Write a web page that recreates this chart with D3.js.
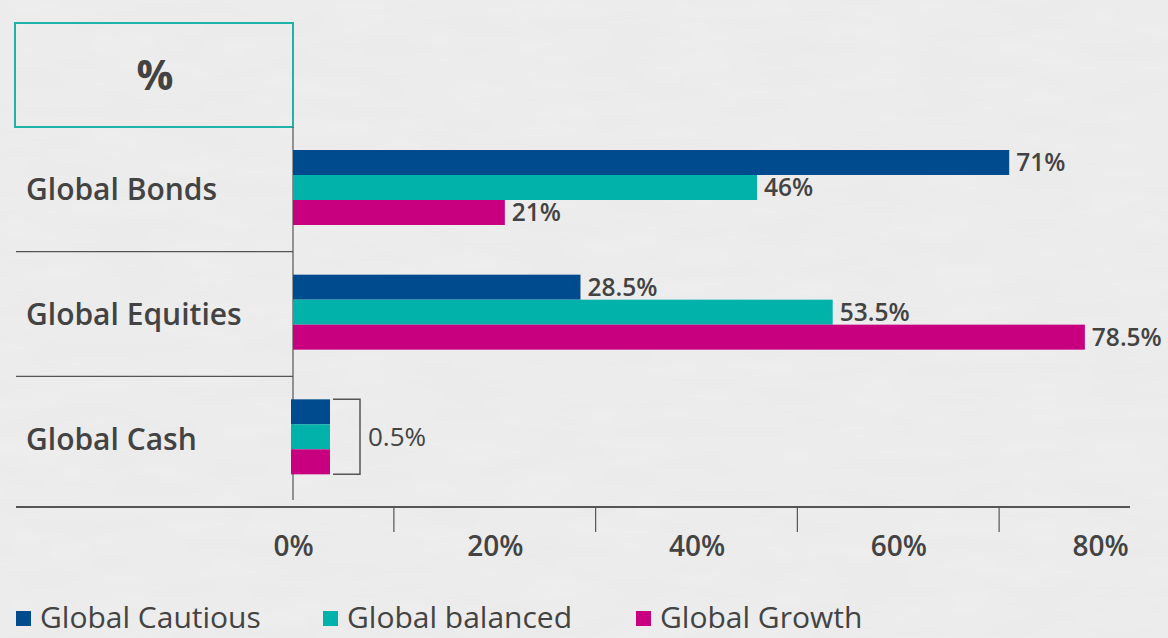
<!DOCTYPE html>
<html>
<head>
<meta charset="utf-8">
<script src="https://cdn.jsdelivr.net/npm/d3@7"></script>
<style>
  html, body { margin: 0; padding: 0; background: #ededed; }
  svg { display: block; font-family: "Open Sans", sans-serif; }
</style>
</head>
<body>
<script>
// Asset classes and the three fund series
const categories = ['Global Bonds', 'Global Equities', 'Global Cash'];
const seriesNames = ['Global Cautious', 'Global balanced', 'Global Growth'];
const cautious = [71, 28.5, 0.5];
const balanced = [46, 53.5, 0.5];
const growth = [21, 78.5, 0.5];
const tickValues = [0, 20, 40, 60, 80];
const colors = ['#004b8d', '#00b2a9', '#c8007f'];

const width = 1168, height = 638;
const textColor = '#434343';
const lineColor = '#555';

const svg = d3.select('body').append('svg')
    .attr('width', width)
    .attr('height', height);

// paper-ish background
const defs = svg.append('defs');
const filt = defs.append('filter').attr('id', 'paper')
    .attr('x', 0).attr('y', 0).attr('width', '100%').attr('height', '100%');
filt.append('feTurbulence')
    .attr('type', 'fractalNoise')
    .attr('baseFrequency', '0.012 0.05')
    .attr('numOctaves', 3)
    .attr('seed', 4);
filt.append('feColorMatrix')
    .attr('type', 'matrix')
    .attr('values', '0 0 0 0 0.55  0 0 0 0 0.55  0 0 0 0 0.55  0 0 0 0.1 0');
svg.append('rect').attr('width', width).attr('height', height).attr('fill', '#eeeeee');
svg.append('rect').attr('width', width).attr('height', height).attr('filter', 'url(#paper)');

// Scales
const x = d3.scaleLinear().domain([0, 80]).range([293, 1100]);
const y0 = d3.scaleBand().domain(categories).range([127, 501]);
const y1 = d3.scaleBand().domain(seriesNames).range([23, 98]);
const minBarW = 39; // tiny values drawn as a visible block

const rows = categories.map((c, i) => ({
  category: c,
  values: [cautious[i], balanced[i], growth[i]]
}));

// Header box
svg.append('rect')
    .attr('x', 15).attr('y', 23)
    .attr('width', 278).attr('height', 104)
    .attr('fill', 'none')
    .attr('stroke', '#1fb3a6')
    .attr('stroke-width', 2);
svg.append('text')
    .attr('x', 155).attr('y', 90)
    .attr('text-anchor', 'middle')
    .attr('font-size', 41)
    .attr('font-weight', 700)
    .attr('fill', textColor)
    .text('%');

// Row separators
svg.selectAll('.sep')
    .data(categories.slice(1))
    .enter().append('line')
    .attr('class', 'sep')
    .attr('x1', 16).attr('x2', x(0))
    .attr('y1', d => y0(d)).attr('y2', d => y0(d))
    .attr('stroke', lineColor)
    .attr('stroke-width', 1.2);

// Vertical axis line
svg.append('line')
    .attr('x1', x(0)).attr('x2', x(0))
    .attr('y1', 127).attr('y2', 500)
    .attr('stroke', lineColor)
    .attr('stroke-width', 1.2);

// Category labels
svg.selectAll('.cat')
    .data(categories)
    .enter().append('text')
    .attr('class', 'cat')
    .attr('x', 26)
    .attr('y', d => y0(d) + y0.bandwidth() / 2 + 11)
    .attr('font-size', 30)
    .attr('font-weight', 600)
    .attr('fill', textColor)
    .text(d => d);

// Bars
const group = svg.selectAll('.group')
    .data(rows)
    .enter().append('g')
    .attr('class', 'group')
    .attr('transform', d => `translate(0,${y0(d.category)})`);

group.selectAll('rect')
    .data(d => d.values.map((v, i) => ({ name: seriesNames[i], value: v, i: i })))
    .enter().append('rect')
    .attr('x', d => d.value < 1 ? x(0) - 2 : x(0))
    .attr('y', d => y1(d.name))
    .attr('width', d => Math.max(x(d.value) - x(0), minBarW))
    .attr('height', y1.bandwidth())
    .attr('fill', d => colors[d.i]);

// Value labels for the readable bars
group.selectAll('.val')
    .data(d => d.values.map((v, i) => ({ name: seriesNames[i], value: v })).filter(d => d.value >= 1))
    .enter().append('text')
    .attr('class', 'val')
    .attr('x', d => x(d.value) + 7)
    .attr('y', d => y1(d.name) + y1.bandwidth() / 2 + 8.5)
    .attr('font-size', 24.5)
    .attr('font-weight', 600)
    .attr('fill', textColor)
    .text(d => d.value + '%');

// Bracket and shared label for the small cash values
const cash = rows[2];
const cy = y0(cash.category);
const bx = x(0) - 2 + minBarW + 3;
svg.append('path')
    .attr('d', `M${bx},${cy + y1(seriesNames[0])}H${bx + 27}V${cy + y1(seriesNames[2]) + y1.bandwidth()}H${bx}`)
    .attr('fill', 'none')
    .attr('stroke', lineColor)
    .attr('stroke-width', 1.5);
svg.append('text')
    .attr('x', bx + 35)
    .attr('y', cy + 23 + 37.5 + 9)
    .attr('font-size', 26)
    .attr('fill', textColor)
    .text(cash.values[0] + '%');

// Bottom axis
const axisY = 507;
svg.append('line')
    .attr('x1', 16).attr('x2', 1130)
    .attr('y1', axisY).attr('y2', axisY)
    .attr('stroke', lineColor)
    .attr('stroke-width', 2);

const axis = svg.append('g')
    .attr('transform', `translate(0,${axisY})`)
    .call(d3.axisBottom(x).tickValues(tickValues).tickFormat(d => d + '%').tickSize(0).tickPadding(0));
axis.select('.domain').remove();
axis.selectAll('text')
    .attr('dy', null)
    .attr('y', 49)
    .attr('font-family', '"Open Sans", sans-serif')
    .attr('font-size', 28)
    .attr('font-weight', 600)
    .attr('fill', textColor);

// Minor tick marks between the labels
svg.selectAll('.mtick')
    .data([10, 30, 50, 70])
    .enter().append('line')
    .attr('class', 'mtick')
    .attr('x1', d => x(d)).attr('x2', d => x(d))
    .attr('y1', axisY).attr('y2', axisY + 25)
    .attr('stroke', lineColor)
    .attr('stroke-width', 1.2);

// Legend
const legendX = [16, 323, 636];
const legend = svg.selectAll('.legend')
    .data(seriesNames)
    .enter().append('g')
    .attr('class', 'legend')
    .attr('transform', (d, i) => `translate(${legendX[i]},611)`);
legend.append('rect')
    .attr('width', 15).attr('height', 15)
    .attr('fill', (d, i) => colors[i]);
legend.append('text')
    .attr('x', 24).attr('y', 17)
    .attr('font-size', 30)
    .attr('fill', textColor)
    .text(d => d);
</script>
</body>
</html>
